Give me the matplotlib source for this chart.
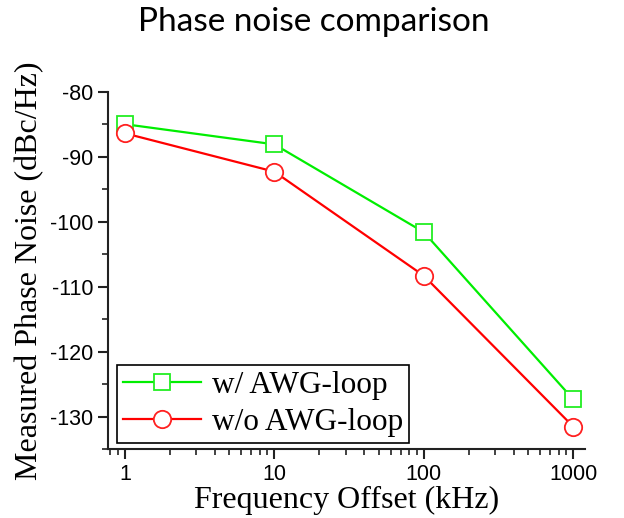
import matplotlib.pyplot as plt
from matplotlib.ticker import MultipleLocator, FixedLocator, LogLocator, NullFormatter

# offsets in kHz and measured phase noise in dBc/Hz
offset_khz = [1, 10, 100, 1000]
with_loop = [-85.0, -88.1, -101.6, -127.3]
without_loop = [-86.4, -92.3, -108.3, -131.5]
tick_labels = ["1", "10", "100", "1000"]

serif = "Liberation Serif"
sans = "Liberation Sans"
plt.rcParams["axes.unicode_minus"] = False

fig = plt.figure(figsize=(6.24, 5.18), dpi=100)
ax = fig.add_axes([0.173, 0.1326, 0.7645, 0.6904])

ax.plot(offset_khz, with_loop, color="#00ee00", lw=1.6, marker="s", ms=11,
        mfc="white", mec="#22ee22", mew=1.3, label="w/ AWG-loop")
ax.plot(offset_khz, without_loop, color="#ff0000", lw=1.6, marker="o", ms=12.5,
        mfc="white", mec="#ff2020", mew=1.3, label="w/o AWG-loop")

ax.set_xscale("log")
ax.set_xlim(0.77, 1200)
ax.set_ylim(-135, -80)

ax.xaxis.set_major_locator(FixedLocator(offset_khz))
ax.set_xticklabels(tick_labels)
ax.xaxis.set_minor_locator(LogLocator(base=10, subs=range(2, 10), numticks=20))
ax.xaxis.set_minor_formatter(NullFormatter())
ax.yaxis.set_major_locator(MultipleLocator(10))
ax.yaxis.set_minor_locator(MultipleLocator(5))

for s in ["top", "right"]:
    ax.spines[s].set_visible(False)
for s in ["left", "bottom"]:
    ax.spines[s].set_linewidth(1.5)
    ax.spines[s].set_color("#222222")

ax.tick_params(which="major", direction="out", length=7, width=1.5, color="#222222",
               labelsize=15.5)
ax.tick_params(which="minor", direction="out", length=4, width=1.2, color="#222222")
for lab in ax.get_xticklabels() + ax.get_yticklabels():
    lab.set_fontfamily(sans)

ax.set_xlabel("Frequency Offset (kHz)", fontsize=23, fontfamily=serif, labelpad=1)
ax.set_ylabel("Measured Phase Noise (dBc/Hz)", fontsize=23, fontfamily=serif, labelpad=4)

fig.text(0.503, 0.957, "Phase noise comparison", ha="center", va="center",
         fontsize=24, fontfamily="Lato")

leg = ax.legend(loc="lower left", bbox_to_anchor=(0.005, 0.0), fancybox=False,
                framealpha=1, edgecolor="black", prop={"family": serif, "size": 22.5},
                handlelength=2.5, borderpad=0.2, labelspacing=0.25, handletextpad=0.35,
                borderaxespad=0.2)
leg.get_frame().set_linewidth(1.2)

fig.savefig("out.png", dpi=100)
